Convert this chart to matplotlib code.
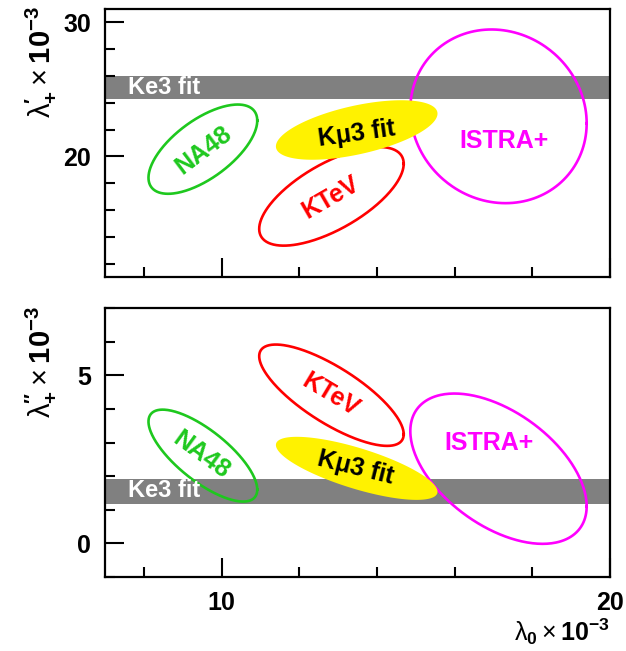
import numpy as np
import matplotlib
matplotlib.use("Agg")
from matplotlib import pyplot as plt
from matplotlib.ticker import MultipleLocator

plt.rcParams['font.family'] = ['Liberation Sans', 'DejaVu Sans']
plt.rcParams['font.weight'] = 'bold'
plt.rcParams['mathtext.fontset'] = 'custom'
plt.rcParams['mathtext.rm'] = 'Liberation Sans:weight=normal'
plt.rcParams['mathtext.bf'] = 'Liberation Sans:bold'
plt.rcParams['mathtext.it'] = 'Liberation Sans:italic'

# experiments: lambda0 centre, sigma, lambda+' or lambda+'' centre, sigma, correlation
names = ["NA48", "KTeV", "ISTRA+"]
colors = ["#1ec81e", "#ff0000", "#ff00ff"]

x0 = [9.52, 12.83, 17.13]
sx = [1.40, 1.86, 2.27]

# top panel: lambda+'
y0_top = [20.54, 17.02, 22.99]
sy_top = [3.33, 3.68, 6.48]
rho_top = [0.64, 0.66, -0.08]

# bottom panel: lambda+''
y0_bot = [2.61, 4.41, 2.22]
sy_bot = [1.37, 1.51, 2.24]
rho_bot = [-0.74, -0.77, -0.50]

# Kmu3 fit (filled)
kmu3_x0, kmu3_sx = 13.48, 2.08
kmu3_top = (21.97, 2.22, 0.55)
kmu3_bot = (2.23, 0.94, -0.74)

# Ke3 fit bands
ke3_top = (24.3, 26.0)
ke3_bot = (1.16, 1.92)

# label positions and angles
lab_x_top = [9.53, 12.80, 17.27]
lab_y_top = [20.45, 16.96, 21.15]
lab_rot_top = [37, 30, 0]
lab_x_bot = [9.49, 12.80, 16.88]
lab_y_bot = [2.64, 4.43, 2.99]
lab_rot_bot = [-36, -31, 0]


def contour(xc, sxc, yc, syc, rho):
    t = np.linspace(0, 2 * np.pi, 300)
    x = xc + sxc * np.cos(t)
    y = yc + syc * (rho * np.cos(t) + np.sqrt(1 - rho ** 2) * np.sin(t))
    return x, y


def draw_panel(ax, y0, sy, rho, kmu3, band, lab_x, lab_y, lab_rot, kmu3_label, kmu3_rot, ke3_y):
    ax.axhspan(band[0], band[1], color='#808080', lw=0, zorder=1)
    ax.text(7.6, ke3_y, "Ke3 fit", color='white', fontsize=17, fontweight='bold',
            va='center', ha='left', zorder=5)
    for i in range(len(names)):
        x, y = contour(x0[i], sx[i], y0[i], sy[i], rho[i])
        ax.plot(x, y, color=colors[i], lw=1.9, zorder=2)
        ax.text(lab_x[i], lab_y[i], names[i], color=colors[i], fontsize=18, fontweight='bold',
                rotation=lab_rot[i], ha='center', va='center', rotation_mode='anchor', zorder=5)
    x, y = contour(kmu3_x0, kmu3_sx, kmu3[0], kmu3[1], kmu3[2])
    ax.fill(x, y, color='#fff200', lw=0, zorder=3)
    ax.text(kmu3_label[0], kmu3_label[1], "K\u03bc3 fit", color='black', fontsize=18,
            fontweight='bold', rotation=kmu3_rot, ha='center', va='center',
            rotation_mode='anchor', zorder=5)

    ax.set_xlim(7, 20)
    ax.xaxis.set_major_locator(MultipleLocator(10))
    ax.xaxis.set_minor_locator(MultipleLocator(2))
    ax.tick_params(which='both', direction='in', width=1.5, labelsize=18, pad=10)
    ax.tick_params(which='major', length=13.5)
    ax.tick_params(which='minor', length=7)
    for s in ax.spines.values():
        s.set_linewidth(1.6)


fig = plt.figure(figsize=(6.26, 6.51), dpi=100)
ax1 = fig.add_axes([0.1677, 0.5745, 0.8067, 0.4117])
ax2 = fig.add_axes([0.1677, 0.1141, 0.8067, 0.4123])

draw_panel(ax1, y0_top, sy_top, rho_top, kmu3_top, ke3_top,
           lab_x_top, lab_y_top, lab_rot_top, (13.49, 21.70), 8, 25.15)
ax1.set_ylim(11, 31)
ax1.yaxis.set_major_locator(MultipleLocator(10))
ax1.yaxis.set_minor_locator(MultipleLocator(2))
ax1.set_xticklabels([])
ax1.set_ylabel(r"$\mathrm{\lambda}_{\mathbf{+}}^{\mathbf{\prime}}\times\mathbf{10^{-3}}$",
               fontsize=21, loc='top')
ax1.yaxis.set_label_coords(-0.095, 1.01)

draw_panel(ax2, y0_bot, sy_bot, rho_bot, kmu3_bot, ke3_bot,
           lab_x_bot, lab_y_bot, lab_rot_bot, (13.44, 2.24), -14, 1.56)
ax2.set_ylim(-1, 7)
ax2.yaxis.set_major_locator(MultipleLocator(5))
ax2.yaxis.set_minor_locator(MultipleLocator(1))
ax2.set_ylabel(r"$\mathrm{\lambda}_{\mathbf{+}}^{\mathbf{\prime\prime}}\times\mathbf{10^{-3}}$",
               fontsize=21, loc='top')
ax2.yaxis.set_label_coords(-0.095, 1.01)
ax2.set_xlabel(r"$\mathrm{\lambda}_{\mathbf{0}}\times\mathbf{10^{-3}}$", fontsize=18,
               loc='right', labelpad=1)

fig.savefig("out.png", dpi=100)
